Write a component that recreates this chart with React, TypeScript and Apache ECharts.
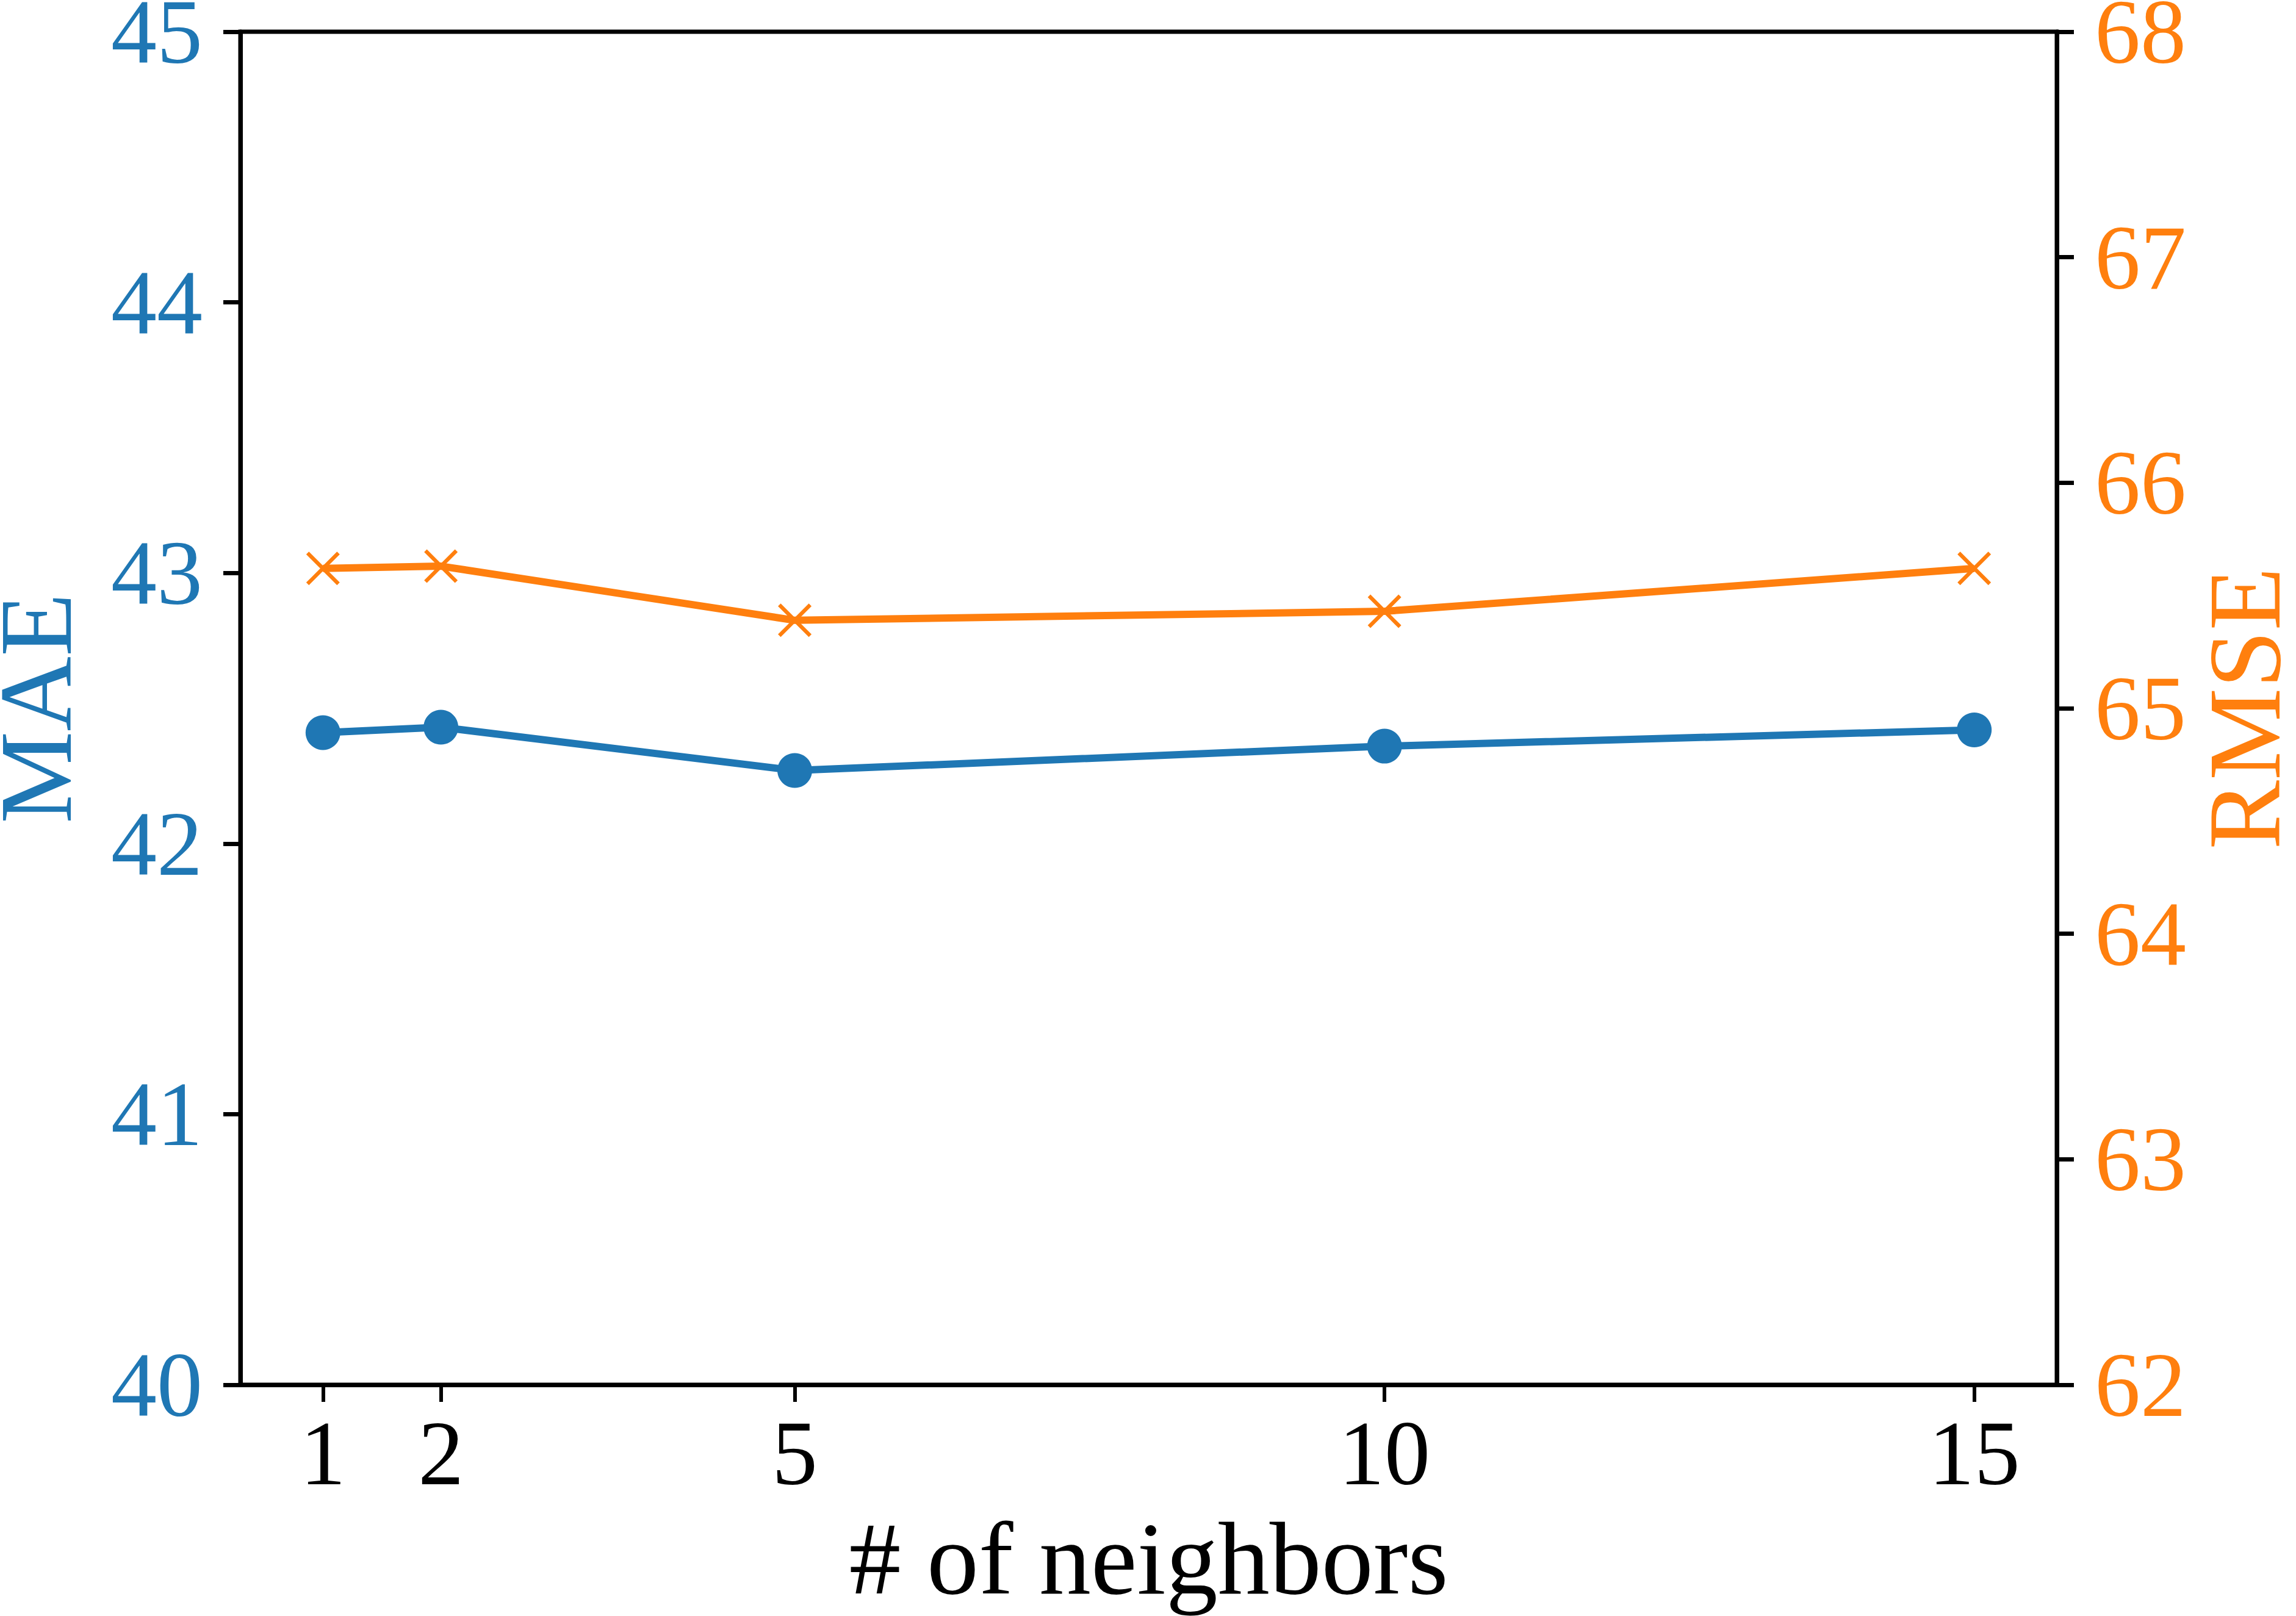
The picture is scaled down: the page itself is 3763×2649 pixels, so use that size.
import React, { useEffect, useRef } from "react";
import * as echarts from "echarts";

const neighbors = [1, 2, 5, 10, 15];
const maeValues = [42.41, 42.43, 42.27, 42.36, 42.42];
const rmseValues = [65.62, 65.63, 65.39, 65.43, 65.62];
const xTicks = [1, 2, 5, 10, 15];

const BLUE = "#1f77b4";
const ORANGE = "#ff7f0e";
const FONT = "'Liberation Serif', 'Times New Roman', serif";

const X_SYMBOL =
  "path://M4.42,-4.42 L104.42,95.58 L95.58,104.42 L-4.42,4.42 Z M95.58,-4.42 L104.42,4.42 L4.42,104.42 L-4.42,95.58 Z";

export default function App() {
  const ref = useRef<HTMLDivElement>(null);

  useEffect(() => {
    if (!ref.current) return;
    const chart = echarts.init(ref.current, null, { renderer: "svg" });
    const tickFont = 150;
    const nameFont = 170;
    chart.setOption({
      animation: false,
      backgroundColor: "#ffffff",
      grid: {
        left: 394,
        right: 392,
        top: 52,
        bottom: 379,
        containLabel: false,
        outerBoundsMode: "none",
        show: true,
        borderColor: "#000",
        borderWidth: 7,
        backgroundColor: "transparent",
      },
      xAxis: {
        type: "value",
        min: 0.3,
        max: 15.7,
        name: "# of neighbors",
        nameLocation: "middle",
        nameGap: 200,
        nameTextStyle: { fontFamily: FONT, fontSize: nameFont, color: "#000" },
        axisLine: { show: true, lineStyle: { color: "#000", width: 7 } },
        axisTick: {
          show: true,
          length: 28,
          inside: false,
          customValues: xTicks,
          lineStyle: { color: "#000", width: 6 },
        },
        axisLabel: {
          customValues: xTicks,
          margin: 37,
          fontFamily: FONT,
          fontSize: tickFont,
          color: "#000",
          formatter: (v: number) => String(v),
        },
        splitLine: { show: false },
      },
      yAxis: [
        {
          type: "value",
          min: 40,
          max: 45,
          interval: 1,
          position: "left",
          name: "MAE",
          nameLocation: "middle",
          nameRotate: 90,
          nameGap: 250,
          nameTextStyle: { fontFamily: FONT, fontSize: nameFont, color: BLUE },
          axisLine: { show: true, lineStyle: { color: "#000", width: 7 } },
          axisTick: { show: true, length: 28, lineStyle: { color: "#000", width: 7 } },
          axisLabel: { margin: 62, fontFamily: FONT, fontSize: tickFont, color: BLUE },
          splitLine: { show: false },
        },
        {
          type: "value",
          min: 62,
          max: 68,
          interval: 1,
          position: "right",
          name: "RMSE",
          nameLocation: "middle",
          nameRotate: 90,
          nameGap: 215,
          nameTextStyle: { fontFamily: FONT, fontSize: nameFont, color: ORANGE },
          axisLine: { show: true, lineStyle: { color: "#000", width: 7 } },
          axisTick: { show: true, length: 28, lineStyle: { color: "#000", width: 7 } },
          axisLabel: { margin: 62, fontFamily: FONT, fontSize: tickFont, color: ORANGE },
          splitLine: { show: false },
        },
      ],
      series: [
        {
          name: "MAE",
          type: "line",
          yAxisIndex: 0,
          data: neighbors.map((n, i) => [n, maeValues[i]]),
          symbol: "circle",
          symbolSize: 57,
          lineStyle: { color: BLUE, width: 12 },
          itemStyle: { color: BLUE },
          z: 3,
        },
        {
          name: "RMSE",
          type: "line",
          yAxisIndex: 1,
          data: neighbors.map((n, i) => [n, rmseValues[i]]),
          symbol: X_SYMBOL,
          symbolSize: 55,
          lineStyle: { color: ORANGE, width: 12 },
          itemStyle: { color: ORANGE },
          z: 4,
        },
      ],
    });
    return () => chart.dispose();
  }, []);

  return (
    <div
      ref={ref}
      style={{ position: "fixed", left: 0, top: 0, width: 3763, height: 2649 }}
    />
  );
}
